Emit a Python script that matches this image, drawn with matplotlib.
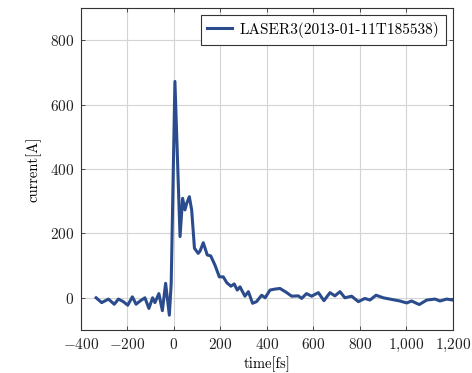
import matplotlib
matplotlib.use("Agg")
import matplotlib.pyplot as plt
from matplotlib.ticker import FixedLocator, FixedFormatter

plt.rcParams['mathtext.fontset'] = 'cm'
plt.rcParams['font.family'] = ['cmr10', 'DejaVu Serif']
plt.rcParams['axes.unicode_minus'] = False

time_fs = [-335, -311, -282, -257, -239, -218, -199, -179, -163, -146, -125, -108, -92, -82,
           -65, -50, -36, -20, -12, 4, 26, 37, 47, 55, 66, 76, 88, 104, 112, 126, 143, 158,
           176, 195, 212, 227, 245, 259, 272, 284, 305, 320, 338, 355, 377, 392, 413, 434,
           456, 485, 506, 535, 549, 570, 592, 621, 645, 671, 692, 714, 735, 764, 793, 821,
           843, 869, 900, 936, 972, 1001, 1022, 1055, 1087, 1123, 1144, 1173, 1199]
current_A = [0, -15, -4, -20, -4, -12, -23, 3, -20, -10, 0, -33, 0, -15,
             13, -40, 45, -54, 45, 672, 190, 309, 273, 294, 314, 273, 154, 138, 145, 171, 133, 130,
             102, 65, 65, 47, 36, 43, 24, 34, 5, 19, -17, -12, 8, 0, 24, 27,
             29, 16, 5, 6, -2, 13, 5, 16, -9, 16, 6, 19, 0, 5, -12, -2,
             -7, 8, 0, -5, -10, -16, -10, -21, -7, -4, -10, -4, -7]

xticks = [-400, -200, 0, 200, 400, 600, 800, 1000, 1200]
xtick_labels = [r'$-400$', r'$-200$', r'$0$', r'$200$', r'$400$', r'$600$', r'$800$',
                r'$1{,}000$', r'$1{,}200$']
yticks = [0, 200, 400, 600, 800]
ytick_labels = [r'$0$', r'$200$', r'$400$', r'$600$', r'$800$']

fig = plt.figure(figsize=(4.72, 3.73), dpi=100)
ax = fig.add_axes([0.1716, 0.1153, 0.7881, 0.8633])
ax.plot(time_fs, current_A, color='#2b4c8c', linewidth=2.2,
        label='LASER3(2013-01-11T185538)')
ax.set_xlim(-400, 1200)
ax.set_ylim(-100, 900)
ax.xaxis.set_major_locator(FixedLocator(xticks))
ax.xaxis.set_major_formatter(FixedFormatter(xtick_labels))
ax.yaxis.set_major_locator(FixedLocator(yticks))
ax.yaxis.set_major_formatter(FixedFormatter(ytick_labels))
ax.grid(True, color='#d4d4d4', linewidth=0.8)
ax.set_axisbelow(True)
ax.tick_params(direction='in', length=3, width=0.6, top=True, right=True,
               labelsize=11, colors='#333333', labelcolor='#222222', pad=5)
for s in ax.spines.values():
    s.set_linewidth(0.8)
    s.set_color('#333333')
ax.set_xlabel('time[fs]', fontsize=10.5, labelpad=2)
ax.set_ylabel('current[A]', fontsize=10.5, labelpad=6)
leg = ax.legend(loc='upper right', fontsize=11, fancybox=False, framealpha=1,
                edgecolor='#333333', handlelength=1.6, borderaxespad=0.45,
                borderpad=0.45, handletextpad=0.5)
leg.get_frame().set_linewidth(0.8)
fig.savefig('out.png', dpi=100)
